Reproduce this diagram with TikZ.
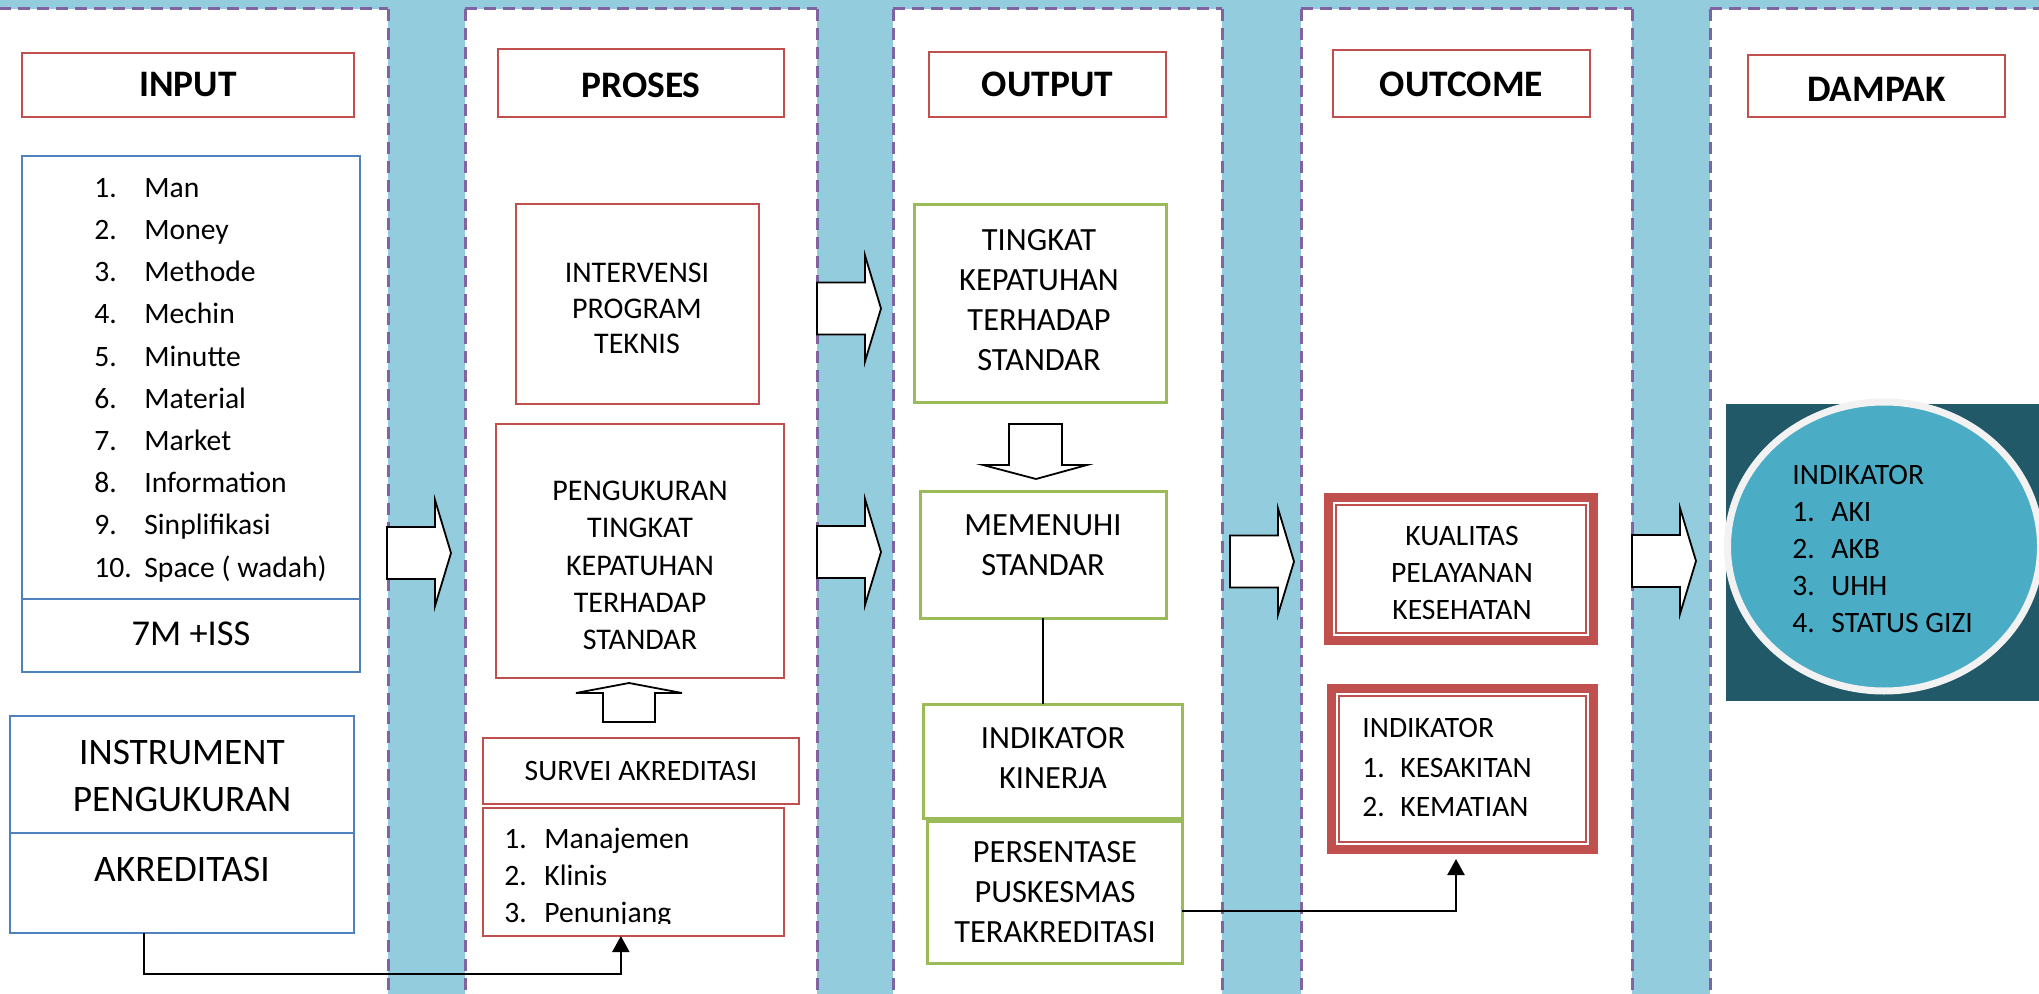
\documentclass[tikz,border=0pt]{standalone}
\usepackage{fontspec}
\setmainfont{Carlito}
\usetikzlibrary{fit,calc,arrows.meta,shapes.geometric}
\definecolor{skyband}{HTML}{93CDDD}
\definecolor{lanepurple}{HTML}{8064A2}
\definecolor{boxred}{HTML}{C0504D}
\definecolor{boxblue}{HTML}{4F81BD}
\definecolor{boxgreen}{HTML}{9BBB59}
\definecolor{tealdark}{HTML}{215968}
\definecolor{tealmid}{HTML}{4BACC6}
\definecolor{ringgray}{HTML}{F2F2F2}
\tikzset{
  lane/.style={draw=lanepurple, line width=1.5pt, dash pattern=on 6pt off 3.5pt},
  frame/.style={inner sep=0pt, outer sep=0pt},
  hdr/.style={frame, draw=boxred, fill=white, line width=1pt},
  hdrtxt/.style={inner sep=0pt, font=\fontsize{18.7}{22}\selectfont\bfseries},
  redbox/.style={frame, draw=boxred, fill=white, line width=1pt},
  bluebox/.style={frame, draw=boxblue, fill=white, line width=1pt},
  greenbox/.style={frame, draw=boxgreen, fill=white, line width=1.5pt},
  dblred/.style={frame, fill=white, path picture={
    \draw[boxred, line width=4.5pt]
      ([shift={(4.5,4.5)}]path picture bounding box.north west) rectangle
      ([shift={(-4.5,-4.5)}]path picture bounding box.south east);
    \draw[boxred, line width=1.2pt]
      ([shift={(12.2,12.2)}]path picture bounding box.north west) rectangle
      ([shift={(-12.2,-12.2)}]path picture bounding box.south east);
  }},
  lbl/.style={align=center, inner sep=0pt},
  gfont/.style={font=\fontsize{16.2}{20}\selectfont},
  item/.style={anchor=west, inner sep=0pt, text height=9.35pt, text depth=0pt,
    font=\fontsize{14.8}{17}\selectfont},
  block/.style={draw=black, fill=white, line width=0.9pt, miter limit=10},
  link/.style={draw=black, line width=1.1pt, -{Triangle[width=8.5pt,length=8pt]}},
  plain/.style={draw=black, line width=0.75pt},
}
% hollow block arrow pointing right; #1,#2 = middle of its tail end
\newcommand\laneArrow[2]{%
  \path[block] (#1,#2) ++(0,-26) -- ++(48,0) -- ++(0,-27) -- ++(16,53)
    -- ++(-16,53) -- ++(0,-27) -- ++(-48,0) -- cycle;}
\begin{document}
\begin{tikzpicture}[x=0.5pt,y=-0.5pt]
\useasboundingbox (0,0) rectangle (2039,994);
\clip (0,0) rectangle (2039,994);
\fill[skyband] (0,0) rectangle (2039,994);

% lanes
\foreach \xa/\xb in {-20/388, 465/817, 893/1222, 1301/1632, 1710/2060} {
  \fill[white] (\xa,9) rectangle (\xb,1000);
  \draw[lane] (\xa,9) -- (\xb,9);
  \draw[lane] (\xa,9) -- (\xa,1000);
  \draw[lane] (\xb,9) -- (\xb,1000);
}

% ---------- INPUT ----------
\node[hdr, fit={(22,53)(354,117)}] (hInput) {};
\node[hdrtxt] (tInput) at (hInput.center) {INPUT};
\node[bluebox, fit={(22,156)(360,599)}] (bFactors) {};
\node[bluebox, fit={(22,599)(360,672)}] (bSum) {};
\node[inner sep=0pt, font=\fontsize{18.2}{22}\selectfont] (tSum) at (191,634) {7M +ISS};
\foreach \n/\t [count=\i] in {1./Man, 2./Money, 3./Methode, 4./Mechin, 5./Minutte,
    6./Material, 7./Market, 8./Information, 9./Sinplifikasi, 10./{Space ( wadah)}}
  \node[item] (fac\i) at (94,{188+42.2*(\i-1)}) {\makebox[25pt][l]{\n}\t};

\node[bluebox, fit={(10,716)(354,833)}] (bInstr) {};
\node[lbl, font=\fontsize{18.7}{23.5}\selectfont] (tInstr) at (182,775.5) {INSTRUMENT\\PENGUKURAN};
\node[bluebox, fit={(10,833)(354,933)}] (bAkred) {};
\node[inner sep=0pt, font=\fontsize{18.7}{22}\selectfont] (tAkred) at (182,869) {AKREDITASI};

% ---------- PROSES ----------
\node[hdr, fit={(498,49)(784,117)}] (hProses) {};
\node[hdrtxt] (tProses) at ([yshift=-1pt]hProses.center) {PROSES};
\node[redbox, fit={(516,204)(759,404)}] (bInterv) {};
\node[lbl, font=\fontsize{15}{17.75}\selectfont] (tInterv) at (637,308.5) {INTERVENSI\\PROGRAM\\TEKNIS};
\node[redbox, fit={(496,424)(784,678)}] (bUkur) {};
\node[lbl, font=\fontsize{15}{18.6}\selectfont] (tUkur) at (640,565.5)
  {PENGUKURAN\\TINGKAT\\KEPATUHAN\\TERHADAP\\STANDAR};
\path[block] (603,722) -- (655,722) -- (655,693) -- (682,693) -- (629,683) -- (576,693) -- (603,693) -- cycle;
\node[redbox, fit={(483,738)(799,804)}] (bSurvei) {};
\node[inner sep=0pt, font=\fontsize{14.8}{17}\selectfont] (tSurvei) at (641,771) {SURVEI AKREDITASI};
\node[redbox, fit={(483,808)(784,936)}] (bSurvList) {};
\begin{scope}
  \clip (483,808) rectangle (784,923);
  \foreach \n/\t [count=\i] in {1./Manajemen, 2./Klinis, 3./Penunjang}
    \node[item] (sv\i) at (504,{839+37*(\i-1)}) {\makebox[20pt][l]{\n}\t};
\end{scope}

% ---------- OUTPUT ----------
\node[hdr, fit={(929,52)(1166,117)}] (hOutput) {};
\node[hdrtxt] (tOutput) at (hOutput.center) {OUTPUT};
\node[greenbox, fit={(914,205)(1166,403)}] (bTingkat) {};
\node[lbl, gfont] (tTingkat) at (1039,300) {TINGKAT\\KEPATUHAN\\TERHADAP\\STANDAR};
\path[block] (1009,424) -- (1062,424) -- (1062,465) -- (1087,465) -- (1036,479) -- (983,465) -- (1009,465) -- cycle;
\node[greenbox, fit={(920,491)(1166,618)}] (bMemenuhi) {};
\node[lbl, gfont] (tMemenuhi) at (1043,545) {MEMENUHI\\STANDAR};
\node[greenbox, fit={(923,704)(1182,818)}] (bKinerja) {};
\node[lbl, gfont] (tKinerja) at (1053,758) {INDIKATOR\\KINERJA};
\node[greenbox, fit={(927,821)(1182,963)}] (bPersen) {};
\node[lbl, gfont] (tPersen) at (1055,892.5) {PERSENTASE\\PUSKESMAS\\TERAKREDITASI};
\draw[plain] (bMemenuhi.south) -- (bMemenuhi.south |- bKinerja.north);

% ---------- OUTCOME ----------
\node[hdr, fit={(1333,50)(1590,117)}] (hOutcome) {};
\node[hdrtxt] (tOutcome) at ([yshift=-0.5pt]hOutcome.center) {OUTCOME};
\node[dblred, fit={(1324,493)(1598,645)}] (bKualitas) {};
\node[lbl, font=\fontsize{14.8}{18.5}\selectfont] (tKualitas) at (1462,573) {KUALITAS\\PELAYANAN\\KESEHATAN};
\node[dblred, fit={(1327,684)(1598,854)}] (bSakit) {};
\node[item] (skHead) at (1362,728) {INDIKATOR};
\node[item] (sk1) at (1362,768) {\makebox[19pt][l]{1.}KESAKITAN};
\node[item] (sk2) at (1362,807) {\makebox[19pt][l]{2.}KEMATIAN};

% ---------- DAMPAK ----------
\node[hdr, fit={(1748,55)(2005,117)}] (hDampak) {};
\node[hdrtxt] (tDampak) at ([yshift=-1.5pt]hDampak.center) {DAMPAK};
\node[frame, fill=tealdark, fit={(1726,404)(2060,701)}] (bImpact) {};
\node[ellipse, draw=ringgray, fill=tealmid, line width=3.5pt, inner sep=0pt,
  minimum width=156.5pt, minimum height=144.5pt] (eImpact) at (1884,546.5) {};
\node[item] (imHead) at (1792,475) {INDIKATOR};
\foreach \n/\t [count=\i] in {1./AKI, 2./AKB, 3./UHH, 4./{STATUS GIZI}}
  \node[item] (im\i) at (1792,{512+37*(\i-1)}) {\makebox[19.5pt][l]{\n}\t};

% ---------- flow between lanes ----------
\laneArrow{387}{553}
\laneArrow{817}{308.5}
\laneArrow{817}{552}
\laneArrow{1230}{561.5}
\laneArrow{1632}{561}

% ---------- connectors ----------
\draw[link] ($(bAkred.south west)!0.39!(bAkred.south east)$) -- ++(0,41)
  -| ($(bSurvList.south west)!0.458!(bSurvList.south east)$);
\draw[link, shorten >=2.5pt] ($(bPersen.north east)!0.634!(bPersen.south east)$)
  -| ($(bSakit.south west)!0.476!(bSakit.south east)$);
\end{tikzpicture}
\end{document}
